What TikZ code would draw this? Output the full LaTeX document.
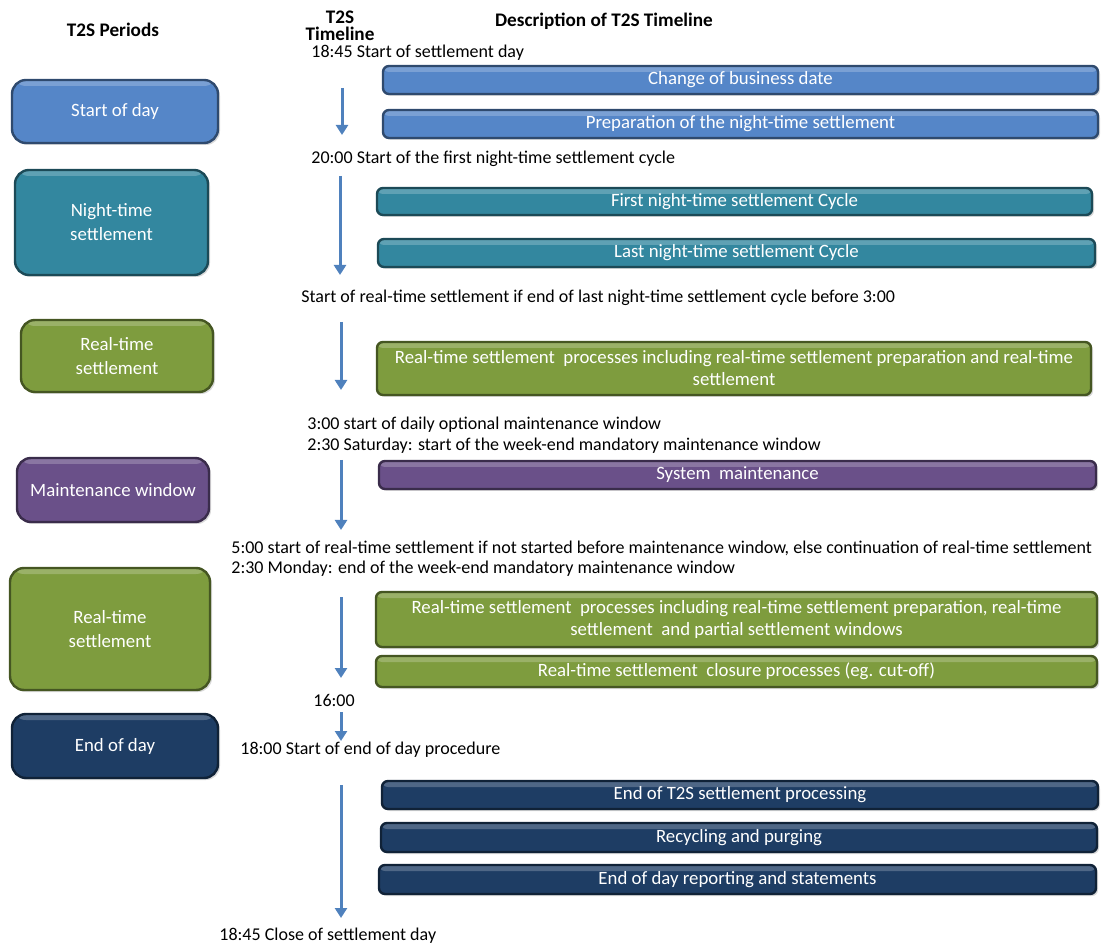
\documentclass[tikz,border=0pt]{standalone}
\usepackage{fontspec}
\setmainfont{Carlito}
\usetikzlibrary{positioning, arrows.meta, shadows}
\definecolor{sodblue}{HTML}{5586C8}
\definecolor{nightteal}{HTML}{33879F}
\definecolor{rtgreen}{HTML}{7E9C3E}
\definecolor{maintpurple}{HTML}{6A5089}
\definecolor{eodnavy}{HTML}{1E3D64}
\definecolor{tlblue}{HTML}{4F81BD}

\begin{document}
\begin{tikzpicture}[x=0.5pt, y=-0.5pt, font=\fontsize{9.4}{11}\selectfont,
    bevel/.style={path picture={\fill[white, opacity=0.22]
        (path picture bounding box.north west) rectangle ([yshift=-3pt]path picture bounding box.north east);}},
    period/.style={draw=#1!55!black, fill=#1, line width=1.2pt, rounded corners=7pt, bevel,
        drop shadow={opacity=0.3, shadow xshift=1pt, shadow yshift=-1pt},
        text=white, align=center, inner sep=0pt, font=\fontsize{9.4}{12}\selectfont},
    task/.style={draw=#1!55!black, fill=#1, line width=1.2pt, rounded corners=3pt, bevel,
        drop shadow={opacity=0.3, shadow xshift=1pt, shadow yshift=-1pt},
        text=white, align=center, inner sep=0pt},
    stamp/.style={anchor=west, inner sep=0pt, font=\fontsize{9}{11}\selectfont},
    head/.style={font=\fontsize{9.6}{8.6}\selectfont\bfseries, align=center},
    tick/.style={draw=tlblue, line width=1.5pt, -{Triangle[width=6pt, length=5pt]}}]
    \useasboundingbox (0,0) rectangle (1112,945);

    \node[head] (hper) at (113,30) {T2S Periods};
    \node[head] (htl) at (340,26) {T2S\\Timeline};
    \node[head] (hdesc) at (604,21) {Description of T2S Timeline};

    \node[period=sodblue, minimum width=103pt, minimum height=31.5pt] (sod) at (115,111.5) {Start of day};
    \node[period=nightteal, minimum width=96.5pt, minimum height=52.5pt] (night) at (111.5,222.5) {Night-time\\settlement};
    \node[period=rtgreen, minimum width=96pt, minimum height=36pt] (rt1) at (117,356) {Real-time\\settlement};
    \node[period=maintpurple, minimum width=96pt, minimum height=32pt] (maint) at (113,490) {Maintenance window};
    \node[period=rtgreen, minimum width=100pt, minimum height=61pt] (rt2) at (110,629) {Real-time\\settlement};
    \node[period=eodnavy, minimum width=103pt, minimum height=32pt] (eod) at (115,746) {End of day};

    \node[task=sodblue, minimum width=357.5pt, minimum height=14pt] (bizdate) at (740.5,80) {Change of business date};
    \node[task=sodblue, minimum width=357.5pt, minimum height=14pt] (prep) at (740.5,124) {Preparation of the night-time settlement};
    \node[task=nightteal, minimum width=357.5pt, minimum height=13.5pt] (firstcyc) at (734.5,201.5) {First night-time settlement Cycle};
    \node[task=nightteal, minimum width=358.5pt, minimum height=14pt] (lastcyc) at (736.5,253) {Last night-time settlement Cycle};
    \node[task=rtgreen, minimum width=357pt, minimum height=26.5pt] (rtproc1) at (734,368.5) {Real-time settlement\ \ processes including real-time settlement preparation and real-time\\settlement};
    \node[task=maintpurple, minimum width=358.5pt, minimum height=14pt] (sysmaint) at (737.5,475) {System\ \ maintenance};
    \node[task=rtgreen, minimum width=360.5pt, minimum height=27.5pt] (rtproc2) at (736.5,619.5) {Real-time settlement\ \ processes including real-time settlement preparation, real-time\\settlement\ \ and partial settlement windows};
    \node[task=rtgreen, minimum width=360.5pt, minimum height=15.5pt] (closure) at (736.5,671.5) {Real-time settlement\ \ closure processes (eg. cut-off)};
    \node[task=eodnavy, minimum width=358pt, minimum height=14pt] (endproc) at (740,795) {End of T2S settlement processing};
    \node[task=eodnavy, minimum width=358pt, minimum height=14.5pt] (recycle) at (739,837.5) {Recycling and purging};
    \node[task=eodnavy, minimum width=358.5pt, minimum height=14.5pt] (report) at (737.5,879.5) {End of day reporting and statements};

    \node[stamp] (t1845) at (311,53) {18:45 Start of settlement day};
    \node[stamp] (t2000) at (311,159) {20:00 Start of the first night-time settlement cycle};
    \node[stamp] (trts) at (301,298) {Start of real-time settlement if end of last night-time settlement cycle before 3:00};
    \node[stamp] (t300) at (307,425) {3:00 start of daily optional maintenance window};
    \node[stamp] (tsat) at (307,446) {2:30 Saturday: start of the week-end mandatory maintenance window};
    \node[stamp] (t500) at (231,548) {5:00 start of real-time settlement if not started before maintenance window, else continuation of real-time settlement};
    \node[stamp] (tmon) at (231,569) {2:30 Monday: end of the week-end mandatory maintenance window};
    \node[stamp] (t1600) at (313,700) {16:00};
    \node[stamp] (t1800) at (240,750) {18:00 Start of end of day procedure};
    \node[stamp] (tclose) at (219,936) {18:45 Close of settlement day};

    \coordinate (a1) at (342,88);  \coordinate (b1) at (342,135);
    \coordinate (a2) at (340,176); \coordinate (b2) at (340,275);
    \coordinate (a3) at (341,322); \coordinate (b3) at (341,390);
    \coordinate (a4) at (341,460); \coordinate (b4) at (341,530);
    \coordinate (a5) at (341,597); \coordinate (b5) at (341,678);
    \coordinate (a6) at (341,712); \coordinate (b6) at (341,741);
    \coordinate (a7) at (341,785); \coordinate (b7) at (341,918);

    \foreach \i in {1,...,7}
        \draw[tick] (a\i) -- (b\i);
\end{tikzpicture}
\end{document}
